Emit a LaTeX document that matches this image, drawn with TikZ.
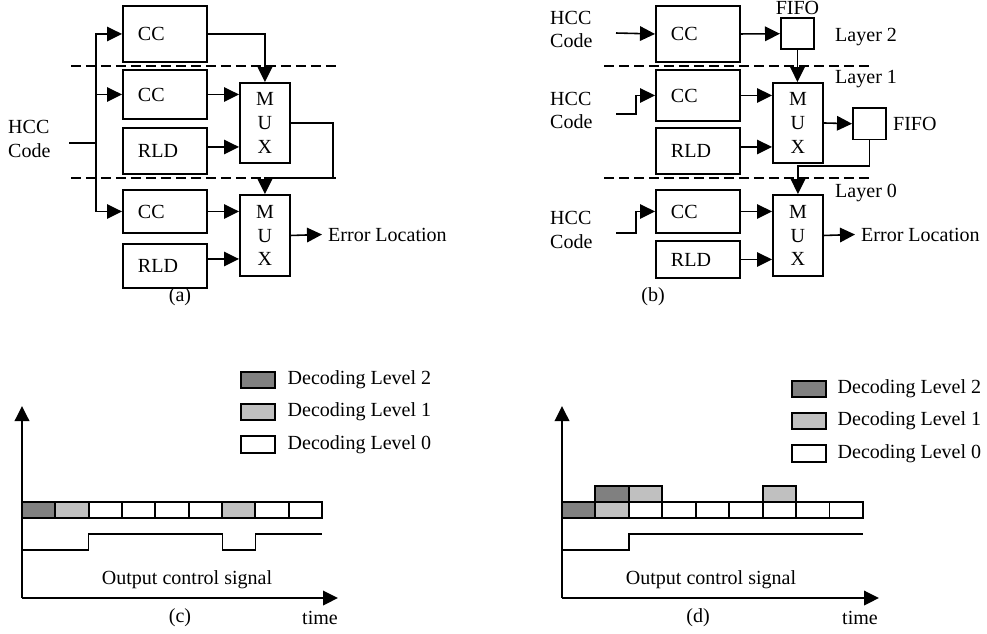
\documentclass[tikz,border=0pt]{standalone}
\usepackage{fontspec}
\setmainfont{Liberation Serif}
\usetikzlibrary{arrows.meta,calc}
\definecolor{dkgray}{HTML}{808080}
\definecolor{ltgray}{HTML}{C0C0C0}

\begin{document}
\begin{tikzpicture}[x=0.02cm, y=-0.02cm,
        font=\fontsize{11.4}{13.5}\selectfont,
        blk/.style={draw, line width=1.1pt, anchor=north west, inner ysep=0pt, inner xsep=0.3cm,
            text width=1.08cm, align=left, minimum height=#1*0.02cm},
        mux/.style={draw, line width=1.1pt, anchor=north west, inner sep=0pt, align=center,
            minimum width=1cm, minimum height=#1*0.02cm},
        fifo/.style={draw, line width=1.1pt, anchor=north west, inner sep=0pt,
            minimum width=0.66cm, minimum height=0.63cm},
        arr/.style={-{Triangle[length=3mm, width=2.9mm]}, line width=0.9pt},
        layer/.style={dashed, dash pattern=on 0.2cm off 0.1cm, line width=0.7pt},
        cell/.style={draw, line width=1.1pt},
        sig/.style={line width=0.8pt}]
        \useasboundingbox (0,0) rectangle (987,633);

        % (a) single decoder chain
        \node[anchor=west, align=left] (ahcc) at (2,139) {HCC\\Code};
        \coordinate (ain) at (69,143);
        \coordinate (abus) at (96,143);
        \node[blk=56] (acc1) at (122,5) {CC};
        \node[blk=49] (acc2) at (122,69) {CC};
        \node[blk=46] (arld2) at (122,127) {RLD};
        \node[blk=43] (acc3) at (122,189) {CC};
        \node[blk=44] (arld3) at (122,243) {RLD};
        \node[mux=80] (amux1) at (239,82) {M\\U\\X};
        \node[mux=81] (amux2) at (239,194) {M\\U\\X};
        \node[anchor=west] (aerr) at (322,234.5) {Error Location};
        \coordinate (aturn) at (333,178);
        \draw[layer] (71,66) -- (340,66);
        \draw[layer] (71,178) -- (340,178);
        \draw[line width=1.1pt] (ain) -- (abus);
        \draw[arr] (abus) |- (acc1.west);
        \draw[arr] (abus) |- (acc2.west);
        \draw[arr] (abus) |- (acc3.west);
        \draw[arr] (acc1.east) -| (amux1.north);
        \draw[arr] (acc2.east) -- (acc2.east -| amux1.west);
        \draw[arr] ([yshift=0.08cm]arld2.east) -- ([yshift=0.08cm]arld2.east -| amux1.west);
        \draw[arr] (amux1.east) -| (aturn) -| (amux2.north);
        \draw[arr] (acc3.east) -- (acc3.east -| amux2.west);
        \draw[arr] ([yshift=0.14cm]arld3.east) -- ([yshift=0.14cm]arld3.east -| amux2.west);
        \draw[arr] (amux2.east) -- (aerr.west);
        \node (alab) at (180,297) {(a)};

        % (b) pipelined with FIFOs
        \node[anchor=west, align=left] (bhcc1) at (544,29.5) {HCC\\Code};
        \node[anchor=west, align=left] (bhcc2) at (544,110.5) {HCC\\Code};
        \node[anchor=west, align=left] (bhcc3) at (544,230) {HCC\\Code};
        \coordinate (bin1) at (616,33);
        \coordinate (bin2) at (616,114);
        \coordinate (bin3) at (616,233);
        \node[blk=56] (bcc1) at (655,5) {CC};
        \node[blk=51] (bcc2) at (655,69) {CC};
        \node[blk=46] (brld2) at (655,127) {RLD};
        \node[blk=43] (bcc3) at (655,189) {CC};
        \node[blk=37] (brld3) at (655,240) {RLD};
        \node[fifo, label={[inner sep=1pt]above:FIFO}] (bfifo1) at (780,17) {};
        \node[fifo, label={right:FIFO}] (bfifo2) at (852,107) {};
        \node[mux=80] (bmux1) at (772,82) {M\\U\\X};
        \node[mux=81] (bmux2) at (772,194) {M\\U\\X};
        \node[anchor=west] (blay2) at (829,37) {Layer 2};
        \node[anchor=west] (blay1) at (829,79) {Layer 1};
        \node[anchor=west] (blay0) at (829,193) {Layer 0};
        \node[anchor=west] (berr) at (855,234.5) {Error Location};
        \coordinate (bturn) at (797,166);
        \draw[layer] (604,66) -- (873,66);
        \draw[layer] (604,178) -- (873,178);
        \draw[arr] (bin1) -- (bcc1.west);
        \draw[arr] (bin2) -| ($(bcc2.west)+(-19,0)$) -- (bcc2.west);
        \draw[arr] (bin3) -| ($(bcc3.west)+(-19,0)$) -- (bcc3.west);
        \draw[arr] (bcc1.east) -- (bfifo1.west);
        \draw[arr] (bfifo1.south) -- (bfifo1.south |- bmux1.north);
        \draw[arr] (bcc2.east) -- (bcc2.east -| bmux1.west);
        \draw[arr] ([yshift=0.08cm]brld2.east) -- ([yshift=0.08cm]brld2.east -| bmux1.west);
        \draw[arr] (bmux1.east) -- (bfifo2.west);
        \draw[arr] (bfifo2.south) |- (bturn) -| (bmux2.north);
        \draw[arr] (bcc3.east) -- (bcc3.east -| bmux2.west);
        \draw[arr] (brld3.east) -- (brld3.east -| bmux2.west);
        \draw[arr] (bmux2.east) -- (berr.west);
        \node (blab) at (653,297) {(b)};

        % (c) timing without FIFO
        \draw[cell, fill=dkgray] (241,372) rectangle (275,388);
        \draw[cell, fill=ltgray] (241,404) rectangle (275,420);
        \draw[cell, fill=white] (241,436) rectangle (275,453);
        \node[anchor=west] (clev2) at (281.5,380) {Decoding Level 2};
        \node[anchor=west] (clev1) at (281.5,412) {Decoding Level 1};
        \node[anchor=west] (clev0) at (281.5,444.5) {Decoding Level 0};
        \foreach \c [count=\i from 0] in {dkgray,ltgray,white,white,white,white,ltgray,white,white}
            \draw[cell, fill=\c] (22+\i*33.33,502) rectangle ++(33.33,16);
        \draw[sig] (22,550) -- (88.7,550) -- (88.7,534) -- (222.3,534) -- (222.3,550)
            -- (255.7,550) -- (255.7,534) -- (322,534);
        \draw[arr, line width=1.1pt] (22,598) -- (22,406);
        \draw[arr, line width=1.1pt] (22,598) -- (338,598);
        \node (csig) at (187,580) {Output control signal};
        \node (ctime) at (320,618) {time};
        \node (clab) at (180,618) {(c)};

        % (d) timing with FIFO
        \draw[cell, fill=dkgray] (792,381) rectangle (826,397);
        \draw[cell, fill=ltgray] (792,413) rectangle (826,429);
        \draw[cell, fill=white] (792,445) rectangle (826,462);
        \node[anchor=west] (dlev2) at (831.5,389) {Decoding Level 2};
        \node[anchor=west] (dlev1) at (831.5,421) {Decoding Level 1};
        \node[anchor=west] (dlev0) at (831.5,453.5) {Decoding Level 0};
        \foreach \c [count=\i from 0] in {dkgray,ltgray,white,white,white,white,white,white,white}
            \draw[cell, fill=\c] (562+\i*33.44,502) rectangle ++(33.44,16);
        \foreach \c/\i in {dkgray/1,ltgray/2,ltgray/6}
            \draw[cell, fill=\c] (562+\i*33.44,486) rectangle ++(33.44,16);
        \draw[sig] (562,550) -- (628.9,550) -- (628.9,534) -- (863,534);
        \draw[arr, line width=1.1pt] (562,598) -- (562,406);
        \draw[arr, line width=1.1pt] (562,598) -- (879,598);
        \node (dsig) at (711,580) {Output control signal};
        \node (dtime) at (860,618) {time};
        \node (dlab) at (698,618) {(d)};
\end{tikzpicture}
\end{document}
